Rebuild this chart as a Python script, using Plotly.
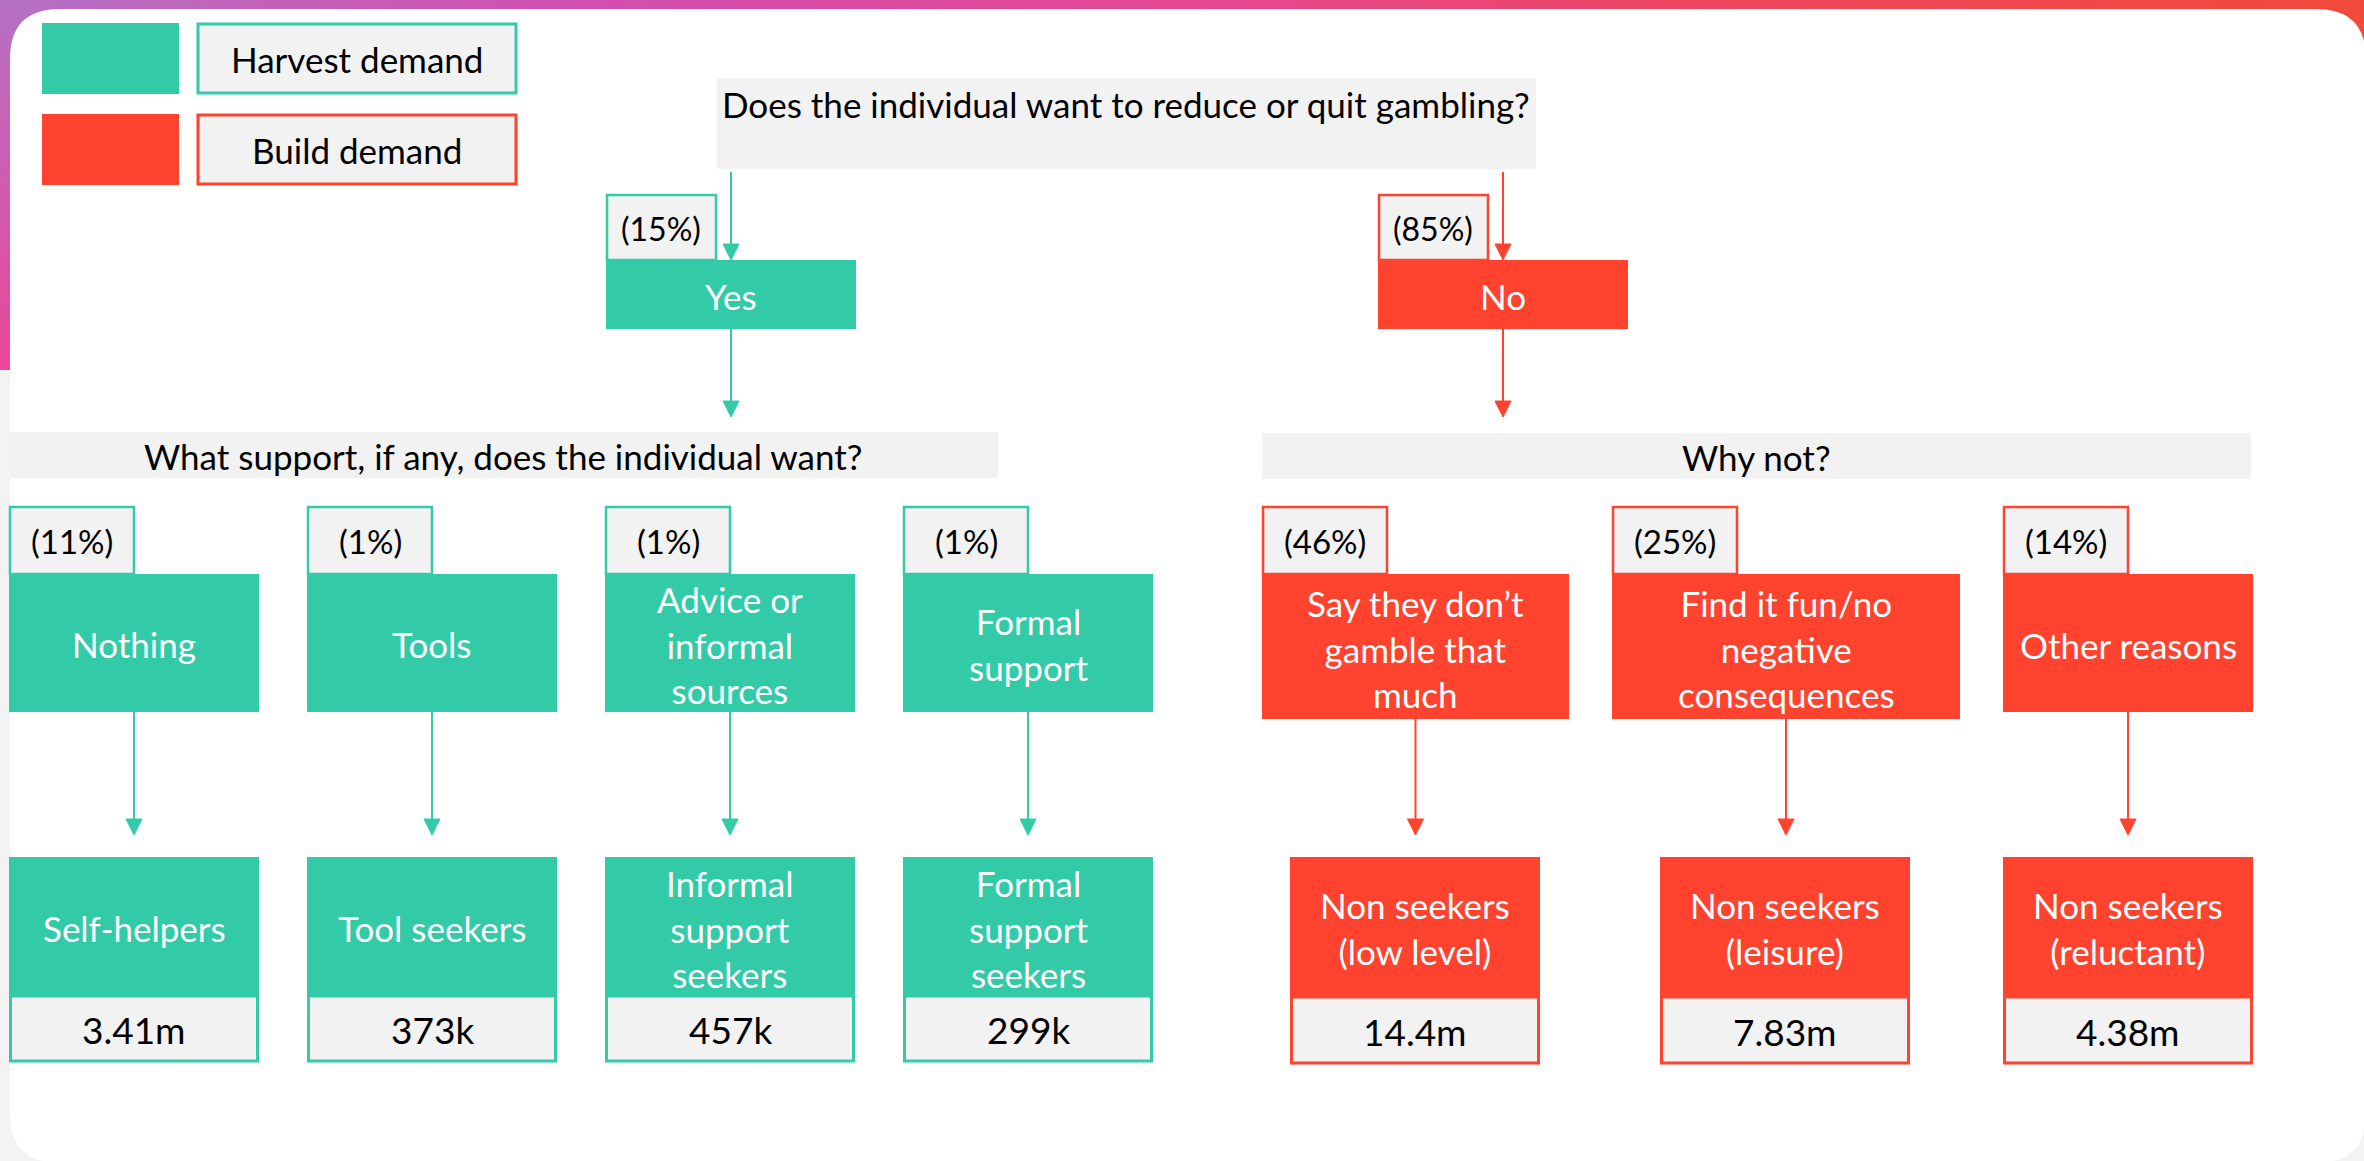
import plotly.graph_objects as go

# ---------------- data ----------------
legend_labels = ["Harvest demand", "Build demand"]
question_main = "Does the individual want to reduce or quit gambling?"
answers = ["Yes", "No"]
answer_pcts = [15, 85]
question_yes = "What support, if any, does the individual want?"
question_no = "Why not?"
yes_options = ["Nothing", "Tools", "Advice or<br>informal<br>sources", "Formal<br>support"]
yes_pcts = [11, 1, 1, 1]
yes_segments = ["Self-helpers", "Tool seekers", "Informal<br>support<br>seekers", "Formal<br>support<br>seekers"]
yes_sizes = ["3.41m", "373k", "457k", "299k"]
no_reasons = ["Say they don\u2019t<br>gamble that<br>much", "Find it fun/no<br>negative<br>consequences", "Other reasons"]
no_pcts = [46, 25, 14]
no_segments = ["Non seekers<br>(low level)", "Non seekers<br>(leisure)", "Non seekers<br>(reluctant)"]
no_sizes = ["14.4m", "7.83m", "4.38m"]

# ---------------- style ----------------
W, H = 2364, 1161
GREEN = "#33CAA8"
RED = "#FF432F"
GREY = "#F2F2F2"
FONT = "Lato, Carlito, sans-serif"
FS = 35      # box labels
FS_Q = 35    # questions / legend
FS_P = 33    # percentages
FS_V = 37    # sizes

fig = go.Figure()

# background gradients (top band and left strip)
fig.add_trace(go.Scatter(
    x=[0, W, W, 0, 0], y=[0, 0, 70, 70, 0], fill="toself", mode="none",
    fillgradient=dict(type="horizontal", start=0, stop=W,
                      colorscale=[[0, "#b471c4"], [0.25, "#d24fb0"], [0.5, "#e64792"],
                                  [0.72, "#ee4660"], [1, "#f24a3a"]]),
    hoverinfo="skip", showlegend=False))
fig.add_trace(go.Scatter(
    x=[0, 14, 14, 0, 0], y=[0, 0, 370, 370, 0], fill="toself", mode="none",
    fillgradient=dict(type="vertical", start=0, stop=370,
                      colorscale=[[0, "#b471c4"], [1, "#ec469a"]]),
    hoverinfo="skip", showlegend=False))

shapes = []
anns = []


def rect(x0, y0, x1, y1, fill, line_color=None, lw=0):
    shapes.append(dict(type="rect", xref="x", yref="y", x0=x0, y0=y0, x1=x1, y1=y1,
                       fillcolor=fill, layer="above",
                       line=dict(color=line_color or fill, width=lw)))


def text(x, y, s, color="black", size=FS):
    anns.append(dict(x=x, y=y, xref="x", yref="y", text=s, showarrow=False,
                     xanchor="center", yanchor="middle",
                     font=dict(family=FONT, size=size, color=color)))


def arrow(x, y0, y1, color):
    shapes.append(dict(type="line", xref="x", yref="y", x0=x, x1=x, y0=y0, y1=y1 - 12,
                       line=dict(color=color, width=2), layer="above"))
    shapes.append(dict(type="path", xref="x", yref="y",
                       path=f"M {x-8},{y1-16} L {x+8},{y1-16} L {x},{y1} Z",
                       fillcolor=color, line=dict(color=color, width=1), layer="above"))


# white rounded panel
px0, py0, px1, py1, R = 10, 9, 2366, 1163, 50
shapes.append(dict(
    type="path", xref="x", yref="y", layer="above", fillcolor="white",
    line=dict(width=0, color="white"),
    path=(f"M {px0+R},{py0} L {px1-R},{py0} Q {px1},{py0} {px1},{py0+R} "
          f"L {px1},{py1-R} Q {px1},{py1} {px1-R},{py1} L {px0+R},{py1} "
          f"Q {px0},{py1} {px0},{py1-R} L {px0},{py0+R} Q {px0},{py0} {px0+R},{py0} Z")))

# legend
for i, (lab, col) in enumerate(zip(legend_labels, [GREEN, RED])):
    y0 = 23 + i * 91
    rect(42, y0, 179, y0 + 71, col)
    rect(198, y0 + 1, 516, y0 + 70, GREY, col, 3)
    text(357, y0 + 36, lab, size=FS_Q)

# main question
rect(717, 78, 1536, 169, GREY)
text(1126, 104, question_main, size=FS_Q)

# yes / no answers
ans_x0 = [606, 1378]
ans_cols = [GREEN, RED]
for i in range(2):
    x0 = ans_x0[i]
    cx = x0 + 125
    col = ans_cols[i]
    arrow(cx, 172, 260, col)
    rect(x0 + 1, 195, x0 + 110, 260, GREY, col, 2.5)
    rect(x0, 260, x0 + 250, 329, col)
    text(x0 + 55, 228, f"({answer_pcts[i]}%)", size=32)
    text(cx, 296, answers[i], color="white")
    arrow(cx, 329, 417, col)

# sub-questions
rect(9, 432, 998, 478, GREY)
text(503, 456, question_yes, size=FS_Q)
rect(1262, 433, 2251, 479, GREY)
text(1756, 457, question_no, size=FS_Q)

# yes branch columns
for i in range(len(yes_options)):
    x0 = 9 + i * 298
    cx = x0 + 125
    rect(x0 + 1, 507, x0 + 125, 574, GREY, GREEN, 2.5)
    text(x0 + 63, 541, f"({yes_pcts[i]}%)", size=FS_P)
    rect(x0, 574, x0 + 250, 712, GREEN)
    text(cx, 644, yes_options[i], color="white")
    arrow(cx, 712, 835, GREEN)
    rect(x0, 857, x0 + 250, 996, GREEN)
    text(cx, 928, yes_segments[i], color="white")
    rect(x0 + 1.5, 996, x0 + 248.5, 1061, GREY, GREEN, 3)
    text(cx, 1029, yes_sizes[i], size=FS_V)

# no branch columns
no_row2 = [(1262, 1569, 719), (1612, 1960, 719), (2003, 2253, 712)]
no_row3_x0 = [1290, 1660, 2003]
for i in range(len(no_reasons)):
    a, b, yb = no_row2[i]
    cx = (a + b) / 2
    rect(a + 1, 507, a + 125, 574, GREY, RED, 2.5)
    text(a + 63, 541, f"({no_pcts[i]}%)", size=FS_P)
    rect(a, 574, b, yb, RED)
    text(cx, (574 + yb) / 2 + 2, no_reasons[i], color="white")
    arrow(cx, yb, 835, RED)
    x0 = no_row3_x0[i]
    rect(x0, 857, x0 + 250, 997, RED)
    text(x0 + 125, 928, no_segments[i], color="white")
    rect(x0 + 1.5, 997, x0 + 248.5, 1063, GREY, RED, 3)
    text(x0 + 125, 1031, no_sizes[i], size=FS_V)

fig.update_layout(
    width=W, height=H, margin=dict(l=0, r=0, t=0, b=0),
    paper_bgcolor="#F3F3F3", plot_bgcolor="#F3F3F3",
    xaxis=dict(range=[0, W], visible=False, fixedrange=True),
    yaxis=dict(range=[H, 0], visible=False, fixedrange=True),
    shapes=shapes, annotations=anns, showlegend=False,
)

fig.write_html(
    "out.html",
    config={"displayModeBar": False},
    post_script="document.body.style.margin='0';document.body.style.overflow='hidden';",
)
